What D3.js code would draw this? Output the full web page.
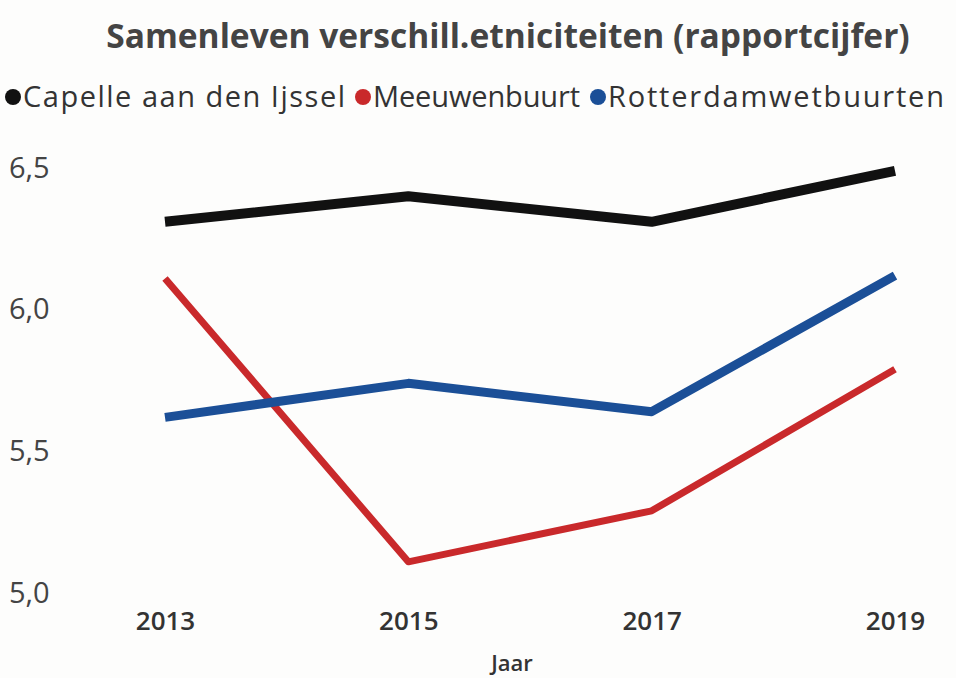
<!DOCTYPE html>
<html><head><meta charset="utf-8">
<script src="https://cdn.jsdelivr.net/npm/d3@7"></script>
<style>
html,body{margin:0;padding:0;background:#fdfdfc;}
svg{display:block;font-family:"Open Sans","Noto Sans",sans-serif;}
</style></head>
<body>
<script>
const title = "Samenleven verschill.etniciteiten (rapportcijfer)";
const xTitle = "Jaar";
const years = ["2013","2015","2017","2019"];
const seriesNames = ["Capelle aan den Ijssel","Meeuwenbuurt","Rotterdamwetbuurten"];
const capelle = [6.31, 6.40, 6.31, 6.49];
const meeuwenbuurt = [6.11, 5.11, 5.29, 5.79];
const rotterdamwet = [5.62, 5.74, 5.64, 6.12];
const yTicks = [5.0, 5.5, 6.0, 6.5];
const colors = ["#111111", "#c9292b", "#1b4f97"];
const widths = [10, 7, 9];

const W = 956, H = 678;
const svg = d3.select("body").append("svg").attr("width", W).attr("height", H);
svg.append("rect").attr("width", W).attr("height", H).attr("fill", "#fdfdfc");

const x = d3.scalePoint().domain(years).range([165, 895]);
const y = d3.scaleLinear().domain([5, 6.5]).range([593, 168]);

// title
svg.append("text").attr("x", 508).attr("y", 48).attr("text-anchor", "middle")
  .attr("font-size", 33.5).attr("font-weight", 700).attr("fill", "#444").text(title);

// legend
const legendX = [13, 363, 598];
const legendW = [322, 207, 336];
seriesNames.forEach((n, i) => {
  const g = svg.append("g").attr("transform", `translate(${legendX[i]},97)`);
  g.append("circle").attr("cx", 0).attr("cy", 0).attr("r", 8).attr("fill", colors[i]);
  g.append("text").attr("x", 10).attr("y", 0).attr("dy", "0.35em")
    .attr("font-size", 29).attr("fill", "#333")
    .attr("textLength", legendW[i]).attr("lengthAdjust", "spacing").text(n);
});

// y axis labels
const yAxis = d3.axisRight(y).tickValues(yTicks).tickSize(0).tickPadding(0)
  .tickFormat(d => d3.format(".1f")(d).replace(".", ","));
const gy = svg.append("g").attr("transform", "translate(9,0)").call(yAxis);
gy.select(".domain").remove();
gy.selectAll("text").attr("font-size", 29).attr("fill", "#444")
  .attr("font-family", "'Open Sans',sans-serif");

// x axis labels
const xAxis = d3.axisBottom(x).tickSize(0).tickPadding(0);
const gx = svg.append("g").attr("transform", "translate(0,612)").call(xAxis);
gx.select(".domain").remove();
gx.selectAll("text").attr("font-size", 26).attr("font-weight", 600).attr("fill", "#333")
  .attr("font-family", "'Open Sans',sans-serif");

svg.append("text").attr("x", 512).attr("y", 671).attr("text-anchor", "middle")
  .attr("font-size", 22).attr("font-weight", 600).attr("fill", "#333").text(xTitle);

// lines
const data = [capelle, meeuwenbuurt, rotterdamwet];
const line = d3.line().x((d, i) => x(years[i])).y(d => y(d));
[1, 2, 0].forEach(i => {
  svg.append("path").datum(data[i]).attr("d", line)
    .attr("fill", "none").attr("stroke", colors[i]).attr("stroke-width", widths[i])
    .attr("stroke-linejoin", "round").attr("stroke-linecap", "butt");
});
</script>
</body></html>
